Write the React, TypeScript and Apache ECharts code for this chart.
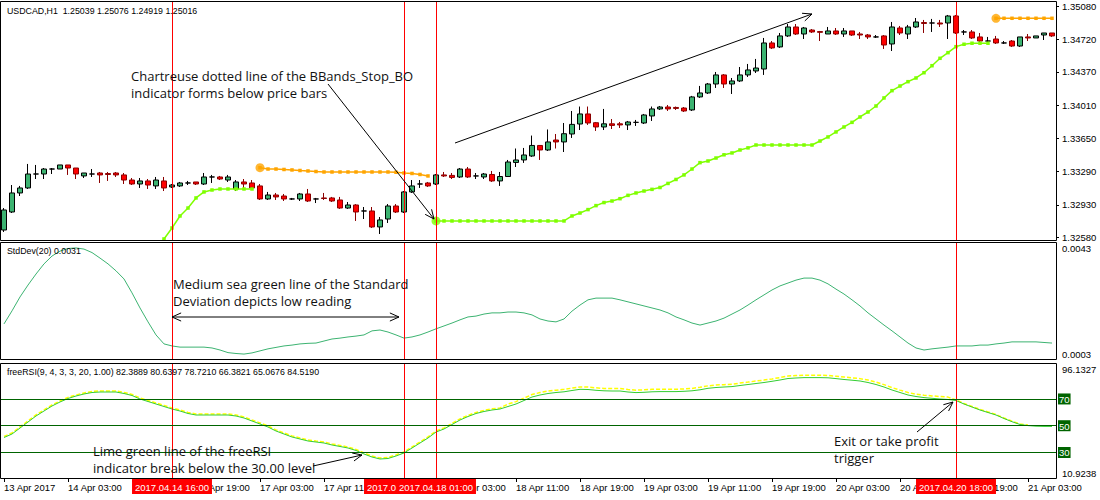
import React, { useEffect, useRef } from 'react';
import * as echarts from 'echarts';

// ---------- categories (H1 bars, weekend skipped) ----------
const BAR_COUNT = 132;
const FIRST_BAR_UTC = Date.UTC(2017, 3, 13, 19);
const MONTHS = ['Jan', 'Feb', 'Mar', 'Apr', 'May', 'Jun', 'Jul', 'Aug', 'Sep', 'Oct', 'Nov', 'Dec'];
const pad2 = (n: number) => (n < 10 ? '0' + n : '' + n);
function buildCategories(): string[] {
  const out: string[] = [];
  let t = FIRST_BAR_UTC;
  while (out.length < BAR_COUNT) {
    const d = new Date(t);
    const wd = d.getUTCDay();
    if (wd !== 0 && wd !== 6) {
      out.push(`${d.getUTCFullYear()}.${pad2(d.getUTCMonth() + 1)}.${pad2(d.getUTCDate())} ${pad2(d.getUTCHours())}:00`);
    }
    t += 3600000;
  }
  return out;
}
const CATEGORIES = buildCategories();

// ---------- price bars ----------
const OPEN = [
  1.32659, 1.32854, 1.33060, 1.33114, 1.33265, 1.33265, 1.33319, 1.33319, 1.33363, 1.33330,
  1.33244, 1.33265, 1.33276, 1.33270, 1.33276, 1.33255, 1.33200, 1.33157, 1.33190, 1.33136,
  1.33190, 1.33125, 1.33136, 1.33168, 1.33179, 1.33157, 1.33233, 1.33233, 1.33200, 1.33103,
  1.33179, 1.33168, 1.33136, 1.32995, 1.33038, 1.33027, 1.32995, 1.32995, 1.33049, 1.32995,
  1.33006, 1.33006, 1.32984, 1.32897, 1.32930, 1.32865, 1.32865, 1.32692, 1.32778, 1.32919,
  1.32854, 1.33071, 1.33157, 1.33168, 1.33157, 1.33255, 1.33250, 1.33233, 1.33319, 1.33244,
  1.33233, 1.33260, 1.33190, 1.33238, 1.33390, 1.33417, 1.33460, 1.33574, 1.33525, 1.33633,
  1.33612, 1.33698, 1.33806, 1.33915, 1.33820, 1.33774, 1.33808, 1.33808, 1.33796, 1.33824,
  1.33817, 1.33893, 1.33969, 1.33990, 1.33985, 1.33979, 1.33958, 1.34099, 1.34142, 1.34239,
  1.34337, 1.34239, 1.34272, 1.34337, 1.34380, 1.34401, 1.34683, 1.34640, 1.34759, 1.34856,
  1.34780, 1.34823, 1.34806, 1.34780, 1.34813, 1.34780, 1.34813, 1.34780, 1.34769, 1.34748,
  1.34759, 1.34672, 1.34845, 1.34780, 1.34856, 1.34904, 1.34899, 1.34899, 1.34899, 1.34975,
  1.34802, 1.34802, 1.34748, 1.34704, 1.34726, 1.34683, 1.34704, 1.34650, 1.34748, 1.34737,
  1.34769, 1.34791,
];
const CLOSE = [
  1.32876, 1.33060, 1.33114, 1.33265, 1.33265, 1.33319, 1.33319, 1.33363, 1.33330, 1.33265,
  1.33276, 1.33265, 1.33255, 1.33260, 1.33255, 1.33200, 1.33157, 1.33190, 1.33146, 1.33200,
  1.33114, 1.33146, 1.33168, 1.33168, 1.33157, 1.33233, 1.33233, 1.33211, 1.33233, 1.33179,
  1.33157, 1.33114, 1.32995, 1.33038, 1.33017, 1.32995, 1.32995, 1.33049, 1.32973, 1.32995,
  1.33000, 1.32973, 1.32897, 1.32930, 1.32854, 1.32865, 1.32692, 1.32768, 1.32919, 1.32854,
  1.33071, 1.33136, 1.33157, 1.33136, 1.33255, 1.33244, 1.33228, 1.33319, 1.33233, 1.33244,
  1.33265, 1.33190, 1.33238, 1.33395, 1.33417, 1.33471, 1.33574, 1.33525, 1.33612, 1.33612,
  1.33701, 1.33802, 1.33915, 1.33817, 1.33774, 1.33808, 1.33791, 1.33796, 1.33828, 1.33824,
  1.33904, 1.33969, 1.33990, 1.33969, 1.33975, 1.33947, 1.34099, 1.34142, 1.34239, 1.34337,
  1.34239, 1.34272, 1.34337, 1.34391, 1.34412, 1.34683, 1.34629, 1.34759, 1.34856, 1.34780,
  1.34845, 1.34802, 1.34798, 1.34813, 1.34780, 1.34813, 1.34769, 1.34769, 1.34748, 1.34748,
  1.34661, 1.34856, 1.34791, 1.34856, 1.34910, 1.34894, 1.34899, 1.34888, 1.34975, 1.34791,
  1.34802, 1.34737, 1.34704, 1.34704, 1.34683, 1.34683, 1.34650, 1.34748, 1.34737, 1.34759,
  1.34791, 1.34759,
];
const LOW = [
  1.32638, 1.32843, 1.33027, 1.33103, 1.33211, 1.33211, 1.33265, 1.33319, 1.33255, 1.33211,
  1.33222, 1.33233, 1.33168, 1.33190, 1.33233, 1.33157, 1.33146, 1.33114, 1.33103, 1.33103,
  1.33081, 1.33114, 1.33125, 1.33146, 1.33146, 1.33146, 1.33168, 1.33200, 1.33179, 1.33081,
  1.33114, 1.33092, 1.32984, 1.32984, 1.32984, 1.32973, 1.32984, 1.32973, 1.32962, 1.32951,
  1.32984, 1.32962, 1.32887, 1.32887, 1.32757, 1.32778, 1.32681, 1.32616, 1.32735, 1.32843,
  1.32843, 1.33060, 1.33114, 1.33125, 1.33146, 1.33233, 1.33211, 1.33222, 1.33222, 1.33211,
  1.33211, 1.33179, 1.33136, 1.33233, 1.33341, 1.33385, 1.33450, 1.33417, 1.33514, 1.33541,
  1.33503, 1.33655, 1.33741, 1.33796, 1.33731, 1.33741, 1.33752, 1.33763, 1.33741, 1.33785,
  1.33806, 1.33839, 1.33958, 1.33947, 1.33958, 1.33936, 1.33947, 1.34088, 1.34131, 1.34196,
  1.34196, 1.34131, 1.34261, 1.34315, 1.34358, 1.34337, 1.34618, 1.34629, 1.34748, 1.34769,
  1.34726, 1.34791, 1.34704, 1.34780, 1.34769, 1.34748, 1.34759, 1.34726, 1.34726, 1.34737,
  1.34618, 1.34596, 1.34769, 1.34726, 1.34845, 1.34791, 1.34802, 1.34856, 1.34726, 1.34780,
  1.34769, 1.34726, 1.34694, 1.34683, 1.34672, 1.34672, 1.34640, 1.34640, 1.34704, 1.34737,
  1.34715, 1.34748,
];
const HIGH = [
  1.32897, 1.33146, 1.33136, 1.33374, 1.33363, 1.33330, 1.33330, 1.33363, 1.33363, 1.33330,
  1.33276, 1.33319, 1.33287, 1.33287, 1.33287, 1.33276, 1.33222, 1.33222, 1.33211, 1.33233,
  1.33233, 1.33157, 1.33179, 1.33190, 1.33179, 1.33276, 1.33255, 1.33244, 1.33255, 1.33200,
  1.33211, 1.33200, 1.33157, 1.33071, 1.33060, 1.33049, 1.33006, 1.33060, 1.33103, 1.33006,
  1.33060, 1.33017, 1.33017, 1.32962, 1.32940, 1.32908, 1.32908, 1.32800, 1.32940, 1.32940,
  1.33081, 1.33200, 1.33200, 1.33179, 1.33265, 1.33287, 1.33276, 1.33330, 1.33341, 1.33276,
  1.33276, 1.33298, 1.33287, 1.33417, 1.33541, 1.33547, 1.33681, 1.33579, 1.33747, 1.33698,
  1.33817, 1.33947, 1.33995, 1.33995, 1.33828, 1.33969, 1.33860, 1.33828, 1.33839, 1.33850,
  1.33915, 1.33995, 1.34001, 1.34012, 1.33995, 1.33990, 1.34110, 1.34218, 1.34250, 1.34369,
  1.34347, 1.34304, 1.34423, 1.34456, 1.34510, 1.34737, 1.34704, 1.34791, 1.34888, 1.34888,
  1.34856, 1.34834, 1.34813, 1.34856, 1.34845, 1.34845, 1.34813, 1.34802, 1.34780, 1.34769,
  1.34769, 1.34910, 1.34867, 1.34878, 1.34953, 1.34932, 1.34943, 1.34932, 1.34986, 1.34986,
  1.34823, 1.34823, 1.34791, 1.34748, 1.34759, 1.34704, 1.34715, 1.34748, 1.34780, 1.34759,
  1.34791, 1.34791,
];

// ---------- BBands_Stop_BO ----------
const UP_STOP: (number | null)[] = [
  ...Array(19).fill(null),
  1.32443, 1.32562, 1.32681, 1.32811, 1.32897, 1.33006, 1.33071, 1.33092, 1.33103, 1.33103,
  1.33103, 1.33103, 1.33103,
  ...Array(22).fill(null),
  1.32757, 1.32757, 1.32757, 1.32757, 1.32757, 1.32757, 1.32757, 1.32757, 1.32757, 1.32757,
  1.32757, 1.32757, 1.32757, 1.32757, 1.32757, 1.32757, 1.32757,
  1.32811, 1.32843, 1.32880, 1.32923, 1.32956, 1.32973, 1.32998, 1.33034, 1.33060, 1.33081,
  1.33099, 1.33119, 1.33163, 1.33206, 1.33255, 1.33319, 1.33388, 1.33406, 1.33438, 1.33473,
  1.33493, 1.33525, 1.33548,
  1.33579, 1.33579, 1.33579, 1.33579, 1.33579, 1.33579, 1.33579, 1.33579,
  1.33622, 1.33666, 1.33720, 1.33774, 1.33824, 1.33882, 1.33936, 1.34001, 1.34088, 1.34167,
  1.34217, 1.34264, 1.34304, 1.34361, 1.34437, 1.34517, 1.34578, 1.34643, 1.34669, 1.34680,
  1.34680, 1.34680,
  ...Array(8).fill(null),
];
const DOWN_STOP: (number | null)[] = [
  ...Array(32).fill(null),
  1.33333, 1.33319, 1.33319, 1.33314, 1.33309, 1.33303, 1.33298, 1.33292,
  1.33287, 1.33287, 1.33287, 1.33287, 1.33287, 1.33287, 1.33287, 1.33287, 1.33287,
  1.33284, 1.33276, 1.33271, 1.33260, 1.33244,
  ...Array(70).fill(null),
  1.34950, 1.34950, 1.34950, 1.34950, 1.34950, 1.34950, 1.34950, 1.34950,
];

// ---------- StdDev(20) ----------
const STDDEV = [
  0.00151, 0.00196, 0.00244, 0.00285, 0.00323, 0.00358, 0.00385, 0.00402, 0.00411, 0.00413,
  0.00409, 0.00397, 0.00378, 0.00358, 0.00334, 0.00306, 0.00258, 0.00206, 0.00158, 0.00113,
  0.00082, 0.00075, 0.00071, 0.00071, 0.00071, 0.00071, 0.00068, 0.00061, 0.00052, 0.00049,
  0.00047, 0.00051, 0.00058, 0.00065, 0.00070, 0.00075, 0.00078, 0.00082, 0.00084, 0.00085,
  0.00092, 0.00099, 0.00102, 0.00106, 0.00109, 0.00113, 0.00127, 0.00130, 0.00123, 0.00113,
  0.00102, 0.00106, 0.00113, 0.00123, 0.00134, 0.00144, 0.00154, 0.00165, 0.00175, 0.00178,
  0.00185, 0.00189, 0.00189, 0.00192, 0.00192, 0.00189, 0.00182, 0.00168, 0.00161, 0.00158,
  0.00168, 0.00195, 0.00216, 0.00234, 0.00240, 0.00240, 0.00240, 0.00234, 0.00227, 0.00220,
  0.00213, 0.00206, 0.00199, 0.00189, 0.00175, 0.00165, 0.00154, 0.00147, 0.00154, 0.00161,
  0.00171, 0.00185, 0.00199, 0.00216, 0.00234, 0.00251, 0.00268, 0.00282, 0.00292, 0.00302,
  0.00309, 0.00309, 0.00302, 0.00289, 0.00271, 0.00254, 0.00234, 0.00213, 0.00189, 0.00168,
  0.00147, 0.00127, 0.00106, 0.00085, 0.00068, 0.00061, 0.00065, 0.00068, 0.00071, 0.00075,
  0.00075, 0.00075, 0.00078, 0.00078, 0.00082, 0.00085, 0.00089, 0.00089, 0.00089, 0.00089,
  0.00087, 0.00085,
];

// ---------- freeRSI ----------
const RSI_MAIN = [
  41.19, 43.81, 48.29, 52.78, 57.27, 61.00, 64.74, 67.73, 70.35, 72.21,
  73.71, 74.83, 75.20, 75.20, 75.20, 74.08, 72.59, 69.97, 68.10, 66.23,
  64.36, 62.49, 61.00, 59.13, 58.01, 58.01, 58.01, 58.01, 58.01, 57.27,
  55.77, 53.53, 51.28, 49.04, 46.05, 43.81, 41.57, 40.07, 38.58, 37.83,
  37.08, 35.59, 34.47, 33.34, 31.48, 28.86, 26.62, 25.12, 25.50, 27.37,
  29.61, 33.34, 37.08, 40.82, 45.30, 47.55, 50.91, 54.27, 56.89, 59.13,
  60.63, 61.75, 62.49, 64.36, 66.23, 68.85, 71.46, 72.96, 74.08, 74.83,
  75.35, 76.32, 77.22, 77.07, 76.47, 76.10, 75.95, 75.95, 75.20, 74.75,
  74.98, 75.35, 75.50, 75.50, 75.50, 75.72, 76.10, 76.85, 77.97, 78.56,
  78.94, 79.24, 80.06, 80.81, 81.55, 82.30, 83.20, 84.17, 85.29, 85.67,
  85.96, 85.96, 85.96, 85.82, 85.22, 84.55, 84.02, 83.43, 82.30, 80.81,
  78.94, 76.70, 74.83, 72.96, 71.84, 71.02, 70.49, 69.97, 69.60, 68.85,
  66.23, 63.99, 61.75, 59.88, 58.01, 55.39, 53.00, 50.91, 50.09, 49.64,
  49.49, 49.49,
];
const RSI_SIGNAL: (number | null)[] = [
  42.0, 44.6, 49.1, 53.6, 58.1, 61.8, 65.5, 68.5, 71.2, 73.0,
  74.5, 75.6, 76.0, 76.0, 76.0, 74.9, 73.4, 70.8, 68.9, 67.0,
  65.2, 63.3, 61.8, 59.9, 58.8, 58.8, 58.8, 58.8, 58.8, 58.1,
  56.6, 54.3, 52.1, 49.8, 46.9, 44.6, 42.4, 40.9, 39.4, 38.6,
  37.9, 36.4, 35.3, 34.1, 32.3, 29.7, 27.4, 25.9, 26.3, 28.2,
  30.4, 34.1, 37.9, 41.6, 46.1, 48.4, 51.7, 55.1, 57.7, 59.9,
  61.4, 62.6, 63.3, 66.2, 68.0, 70.6, 73.3, 74.8, 75.9, 76.6,
  77.2, 78.1, 79.0, 78.9, 78.3, 77.9, 77.8, 77.8, 77.0, 76.6,
  76.8, 77.2, 77.3, 77.3, 77.3, 77.5, 77.9, 78.7, 79.8, 80.4,
  80.7, 81.0, 81.9, 82.6, 83.4, 84.1, 85.0, 86.0, 87.1, 87.5,
  87.8, 87.8, 87.8, 87.6, 87.0, 86.4, 85.8, 85.2, 84.1, 82.6,
  80.7, 78.5, 76.6, 74.8, 73.6, 72.8, 72.3, 71.8, 71.4, 69.3,
  66.6, 64.4, 62.2, 60.3, 58.4, 55.8, 53.4, 51.3, 50.5, null,
  null, null,
];

// ---------- axes ----------
const PRICE_MIN = 1.32551;
const PRICE_MAX = 1.35137;
const PRICE_TICKS = [1.3258, 1.3293, 1.3329, 1.3365, 1.3401, 1.3437, 1.3472, 1.3508];
const STD_MIN = 0.0003;
const STD_MAX = 0.0043;
const RSI_MIN = 10.9238;
const RSI_MAX = 96.1327;
const RSI_LEVELS = [30, 50, 70];
const EVENT_BARS = ['2017.04.14 16:00', '2017.04.17 21:00', '2017.04.18 01:00', '2017.04.20 18:00'];

const SMALL_FONT = 'Liberation Sans';
const NOTE_FONT = '13px "Open Sans"';

function segmentStarts(arr: (number | null)[]) {
  const out: [number, number][] = [];
  arr.forEach((v, i) => {
    if (v != null && (i === 0 || arr[i - 1] == null)) out.push([i, v]);
  });
  return out;
}

function axisTimeLabel(value: string, index: number) {
  const [date, time] = value.split(' ');
  const [y, m, d] = date.split('.');
  const mon = MONTHS[Number(m) - 1];
  return index === 0 ? `${Number(d)} ${mon} ${y}` : `${Number(d)} ${mon} ${time}`;
}

function arrowHead(fx: number, fy: number, tx: number, ty: number, len = 10, spread = 0.42) {
  const a = Math.atan2(ty - fy, tx - fx);
  return [
    [tx - len * Math.cos(a - spread), ty - len * Math.sin(a - spread)],
    [tx, ty],
    [tx - len * Math.cos(a + spread), ty - len * Math.sin(a + spread)],
  ];
}

function arrow(fx: number, fy: number, tx: number, ty: number) {
  return [
    { type: 'line', shape: { x1: fx, y1: fy, x2: tx, y2: ty }, style: { stroke: '#000', lineWidth: 1 }, z: 100 },
    { type: 'polyline', shape: { points: arrowHead(fx, fy, tx, ty) }, style: { stroke: '#000', lineWidth: 1, fill: null }, z: 100 },
  ];
}

function note(text: string, x: number, top: number) {
  return {
    type: 'text', x, y: top, z: 100,
    style: { text, font: NOTE_FONT, fill: '#111', lineHeight: 17, verticalAlign: 'top', align: 'left' },
  };
}

function header(text: string, x: number, y: number) {
  return {
    type: 'text', x, y, z: 100,
    style: { text, fontFamily: SMALL_FONT, fontSize: 8.8, fill: '#000', verticalAlign: 'middle', align: 'left' },
  };
}

function frame(y: number, h: number) {
  return {
    type: 'rect', z: 90,
    shape: { x: 0.5, y, width: 1056, height: h },
    style: { stroke: '#000', lineWidth: 1, fill: null },
  };
}

export default function App() {
  const ref = useRef<HTMLDivElement>(null);

  useEffect(() => {
    if (!ref.current) return;
    const chart = echarts.init(ref.current, undefined, { renderer: 'svg' });

    const candles = CATEGORIES.map((_, i) => [OPEN[i], CLOSE[i], LOW[i], HIGH[i]]);
    const labelStyle = { fontFamily: SMALL_FONT, fontSize: 9.5, color: '#000' };
    const redLines = (withLabel: boolean) => ({
      silent: true,
      symbol: ['none', 'none'],
      lineStyle: { color: '#FF0000', width: 1, type: 'solid' },
      label: withLabel
        ? {
            show: true, position: 'start', formatter: '{b}', distance: 1,
            color: '#fff', backgroundColor: '#FF0000', padding: [3, 3, 2, 3],
            fontFamily: SMALL_FONT, fontSize: 9.5,
          }
        : { show: false },
      emphasis: { disabled: true },
      data: EVENT_BARS.map((c) => ({ name: c, xAxis: c })),
    });

    const option: any = {
      animation: false,
      backgroundColor: '#fff',
      grid: [
        { left: 0, top: 1, width: 1056, height: 239 },
        { left: 0, top: 243, width: 1056, height: 116 },
        { left: 0, top: 364, width: 1056, height: 114 },
      ],
      xAxis: [0, 1, 2].map((g) => ({
        type: 'category',
        gridIndex: g,
        data: CATEGORIES,
        boundaryGap: true,
        show: g === 2,
        axisLine: { show: false },
        axisTick: { show: g === 2, interval: 7, alignWithLabel: true, length: 4, lineStyle: { color: '#000' } },
        axisLabel: {
          show: g === 2, interval: 7, align: 'left', margin: 4, ...labelStyle,
          formatter: axisTimeLabel,
        },
        splitLine: { show: false },
      })),
      yAxis: [
        {
          type: 'value', gridIndex: 0, position: 'right', min: PRICE_MIN, max: PRICE_MAX,
          axisLine: { show: false },
          axisTick: { show: true, length: 3, customValues: PRICE_TICKS, lineStyle: { color: '#000' } },
          axisLabel: { margin: 6, customValues: PRICE_TICKS, formatter: (v: number) => v.toFixed(5), ...labelStyle },
          splitLine: { show: false },
        },
        {
          type: 'value', gridIndex: 1, position: 'right', min: STD_MIN, max: STD_MAX,
          axisLine: { show: false },
          axisTick: { show: false },
          axisLabel: {
            margin: 6, customValues: [STD_MIN, STD_MAX], formatter: (v: number) => v.toFixed(4), ...labelStyle,
            verticalAlignMinLabel: 'bottom', verticalAlignMaxLabel: 'top',
          },
          splitLine: { show: false },
        },
        {
          type: 'value', gridIndex: 2, position: 'right', min: RSI_MIN, max: RSI_MAX,
          axisLine: { show: false },
          axisTick: { show: false },
          axisLabel: {
            margin: 2, customValues: [RSI_MIN, ...RSI_LEVELS, RSI_MAX], ...labelStyle,
            verticalAlignMinLabel: 'bottom', verticalAlignMaxLabel: 'top',
            formatter: (v: number) =>
              RSI_LEVELS.some((l) => Math.abs(l - v) < 1e-6) ? `{lv|${Math.round(v)}}` : `{n|${v.toFixed(4)}}`,
            rich: {
              lv: { backgroundColor: '#006400', color: '#fff', padding: [1, 1, 0, 1], fontFamily: SMALL_FONT, fontSize: 9.5 },
              n: { padding: [0, 0, 0, 4], fontFamily: SMALL_FONT, fontSize: 9.5, color: '#000' },
            },
          },
          splitLine: { show: false },
        },
      ],
      series: [
        {
          type: 'line', xAxisIndex: 0, yAxisIndex: 0, data: [], silent: true,
          markLine: redLines(false),
        },
        {
          type: 'candlestick', xAxisIndex: 0, yAxisIndex: 0, data: candles, barWidth: 5,
          itemStyle: {
            color: '#3CB371', color0: '#FF0000', borderColor: '#000', borderColor0: '#8B0000',
            borderColorDoji: '#000', borderWidth: 1,
          },
        },
        {
          type: 'line', xAxisIndex: 0, yAxisIndex: 0, data: UP_STOP, connectNulls: false, clip: true,
          symbol: 'rect', symbolSize: 3.5, showSymbol: true, color: '#7FFF00',
          lineStyle: { color: '#7FFF00', width: 1.5 }, itemStyle: { color: '#7FFF00' },
        },
        {
          type: 'line', xAxisIndex: 0, yAxisIndex: 0, data: DOWN_STOP, connectNulls: false, clip: true,
          symbol: 'rect', symbolSize: 3.5, showSymbol: true, color: '#FFA500',
          lineStyle: { color: '#FFA500', width: 1.5 }, itemStyle: { color: '#FFA500' },
        },
        {
          type: 'scatter', xAxisIndex: 0, yAxisIndex: 0, data: segmentStarts(UP_STOP), symbolSize: 9,
          itemStyle: { color: '#7FFF00' }, clip: true,
        },
        {
          type: 'scatter', xAxisIndex: 0, yAxisIndex: 0, data: segmentStarts(DOWN_STOP), symbolSize: 9,
          itemStyle: { color: '#FFA500' }, clip: true,
        },
        {
          type: 'line', xAxisIndex: 1, yAxisIndex: 1, data: STDDEV, symbol: 'none',
          lineStyle: { color: '#3CB371', width: 1 }, markLine: redLines(false),
        },
        {
          type: 'line', xAxisIndex: 2, yAxisIndex: 2, data: RSI_SIGNAL, symbol: 'none', connectNulls: false,
          lineStyle: { color: '#FFFF00', width: 1.5, type: [4, 2] }, markLine: redLines(true),
        },
        {
          type: 'line', xAxisIndex: 2, yAxisIndex: 2, data: RSI_MAIN, symbol: 'none',
          lineStyle: { color: '#32CD32', width: 1 },
          markLine: {
            silent: true, symbol: ['none', 'none'],
            lineStyle: { color: '#006400', width: 1, type: 'solid' },
            label: { show: false },
            data: RSI_LEVELS.map((v) => ({ yAxis: v })),
          },
        },
      ],
      graphic: [
        frame(1.5, 239),
        frame(242.5, 117),
        frame(363.5, 115),
        header('USDCAD,H1  1.25039 1.25076 1.24919 1.25016', 7, 11),
        header('StdDev(20) 0.0031', 7, 251),
        header('freeRSI(9, 4, 3, 3, 20, 1.00) 82.3889 80.6397 78.7210 66.3821 65.0676 84.5190', 7, 372),
        note('Chartreuse dotted line of the BBands_Stop_BO\nindicator forms below price bars', 131, 67.5),
        note('Medium sea green line of the Standard\nDeviation depicts low reading', 173, 275.5),
        note('Lime green line of the freeRSI\nindicator break below the 30.00 level', 93, 442),
        note('Exit or take profit\ntrigger', 834, 432),
        ...arrow(328, 84, 434, 219),
        ...arrow(455, 143, 812, 14),
        ...arrow(285, 317, 172, 317),
        ...arrow(285, 317, 399, 317),
        ...arrow(313, 466, 362, 455),
        ...arrow(917, 432, 953, 402),
      ],
    };

    chart.setOption(option);
    return () => chart.dispose();
  }, []);

  return (
    <div
      ref={ref}
      style={{ position: 'absolute', left: 0, top: 0, width: 1100, height: 500, background: '#fff' }}
    />
  );
}
